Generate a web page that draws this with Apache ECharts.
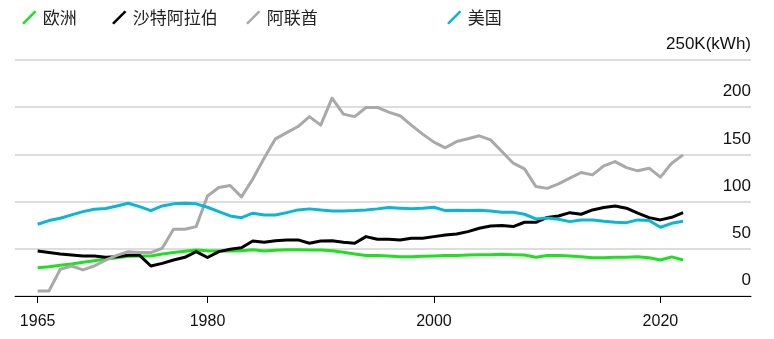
<!DOCTYPE html>
<html>
<head>
<meta charset="utf-8">
<script src="https://cdn.jsdelivr.net/npm/echarts@6/dist/echarts.min.js"></script>
<style>
  html, body { margin: 0; padding: 0; background: #fff; }
  #chart { width: 774px; height: 339px; }
</style>
</head>
<body>
<div id="chart"></div>
<script>
// Per-capita electricity use by region, K kWh, 1965-2022
var firstYear = 1965;
var lastYear = 2022;

var europe = [
  30, 31.1, 32.5, 33.9, 35.7, 37.4, 39.2, 40.6, 42.1, 42.4,
  42.4, 44.5, 46, 47.4, 48.8, 48, 47.7, 47.7, 48, 49.1,
  47.7, 48.4, 49.1, 49.1, 48.8, 48.8, 48, 46.3, 44.5, 42.8,
  42.8, 42.4, 41.7, 41.7, 42.1, 42.4, 42.8, 42.8, 43.5, 43.8,
  43.8, 44.2, 43.8, 43.5, 41, 43, 42.8, 42.4, 41.7, 40.6,
  40.6, 41, 41, 41.7, 40.6, 38.2, 41.4, 38.2
];
var saudi = [
  47.7, 46, 44.5, 43.5, 42.4, 42.4, 41, 41.7, 43.1, 43.1,
  31.8, 34.6, 38.2, 41, 47, 40.8, 47, 49.5, 51.2, 58.3,
  56.9, 58.6, 59.4, 59.4, 55.9, 58.3, 58.6, 56.9, 55.9, 62.9,
  60.1, 60.1, 59.4, 61.2, 61.2, 62.9, 64.7, 65.7, 68.2, 71.8,
  74.2, 74.6, 73.5, 78.1, 78.1, 83.2, 84.8, 88.3, 86.6, 91.2,
  93.7, 95.4, 93, 87.7, 83, 80.6, 83.4, 88.3
];
var uae = [
  5.3, 5.3, 28.3, 31.8, 27.6, 31.8, 38, 43, 47, 46,
  46, 50.6, 70.7, 70.7, 73.5, 106, 115, 117, 105, 124,
  146, 166.5, 173, 179.5, 190, 181, 209.6, 192.7, 190, 199.7,
  199.7, 194.8, 191, 181, 171.5, 163, 157, 163.6, 166.5, 169.7,
  165.4, 153, 140.7, 134.7, 116, 114, 118.8, 124.8, 130.8, 128.3,
  137.9, 142.4, 136, 132.6, 135.4, 125.9, 140.7, 149.5
];
var usa = [
  76, 79.9, 82.4, 85.9, 89.4, 91.9, 92.6, 95.4, 98.3, 94.7,
  90.5, 95.4, 97.6, 98.3, 97.6, 94, 89.4, 84.8, 83, 87.7,
  85.9, 85.9, 88.3, 91.2, 92.3, 91.2, 90.1, 90.1, 90.5, 91.2,
  92.3, 93.7, 93, 92.3, 93, 94, 90.5, 90.8, 90.5, 90.8,
  90.1, 88.7, 88.7, 86.6, 81.7, 82.7, 81.3, 78.8, 80.6, 80.6,
  79.2, 78.1, 77.7, 80.6, 79.9, 72.8, 77, 79.2
];

var seriesNames = ['欧洲', '沙特阿拉伯', '阿联酋', '美国'];
var seriesColors = ['#1fe01f', '#000000', '#a9a9a9', '#0bb5d6'];
var xTicks = [1965, 1980, 2000, 2020];
var yTicks = [0, 50, 100, 150, 200, 250];
var yUnit = 'K(kWh)';

var years = [];
for (var y = firstYear; y <= lastYear; y++) years.push(y);

function pairs(values) {
  return values.map(function (v, i) { return [years[i], v]; });
}

var seriesValues = [europe, saudi, uae, usa];
var legendLeft = [17, 107, 241, 442];
var slashIcon = 'path://M0,12.5 L12.5,0 L14.5,1.5 L2,14 Z';

var chart = echarts.init(document.getElementById('chart'), null, { renderer: 'canvas' });

chart.setOption({
  animation: false,
  backgroundColor: '#ffffff',
  textStyle: { fontFamily: 'Liberation Sans, Arial, sans-serif' },
  legend: seriesNames.map(function (name, i) {
    return {
      data: [name],
      left: legendLeft[i],
      top: 4,
      icon: slashIcon,
      itemWidth: 15,
      itemHeight: 14,
      itemGap: 6,
      selectedMode: false,
      itemStyle: { borderWidth: 0 },
      textStyle: {
        fontFamily: 'Noto Sans CJK SC, sans-serif',
        fontSize: 17,
        color: '#222222',
        padding: [0, 0, 0, 1]
      }
    };
  }),
  grid: { left: 15, right: 23, top: 60, bottom: 43, containLabel: false },
  xAxis: {
    type: 'value',
    min: 1963,
    max: 2028,
    splitLine: { show: false },
    axisLine: { show: true, lineStyle: { color: '#000000', width: 1 } },
    axisTick: {
      show: true,
      customValues: xTicks,
      length: 7,
      lineStyle: { color: '#000000', width: 1 }
    },
    axisLabel: {
      customValues: xTicks,
      margin: 18,
      fontSize: 16,
      color: '#111111',
      fontFamily: 'Liberation Sans, Arial, sans-serif',
      formatter: function (v) { return String(v); }
    }
  },
  yAxis: {
    type: 'value',
    position: 'right',
    min: yTicks[0],
    max: yTicks[yTicks.length - 1],
    interval: 50,
    axisLine: { show: false },
    axisTick: { show: false },
    splitLine: { show: true, lineStyle: { color: '#dddddd', width: 2 } },
    axisLabel: {
      inside: true,
      margin: 0,
      align: 'right',
      verticalAlign: 'bottom',
      padding: [0, 0, 7, 0],
      fontSize: 17,
      color: '#111111',
      fontFamily: 'Liberation Sans, Arial, sans-serif',
      formatter: function (v) { return v === yTicks[yTicks.length - 1] ? v + yUnit : String(v); }
    }
  },
  series: seriesNames.map(function (name, i) {
    return {
      name: name,
      type: 'line',
      data: pairs(seriesValues[i]),
      showSymbol: false,
      symbol: 'none',
      color: seriesColors[i],
      lineStyle: { width: 3, color: seriesColors[i], join: 'round' },
      emphasis: { disabled: true }
    };
  })
});
</script>
</body>
</html>
